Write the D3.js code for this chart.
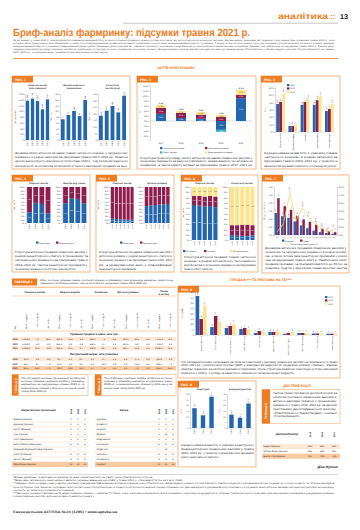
<!DOCTYPE html>
<html lang="uk"><head><meta charset="utf-8">
<script src="https://cdn.jsdelivr.net/npm/d3@7/dist/d3.min.js"></script>
<style>html,body{margin:0;padding:0;background:#fff;}svg{display:block;}text{text-rendering:geometricPrecision;}</style>
</head><body>
<svg id="page" width="360" height="530" viewBox="0 0 360 530" text-rendering="geometricPrecision"></svg>
<script>
// ================= DATA =================
const years5 = ["2017","2018","2019","2020","2021"];
const years4 = ["2018","2019","2020","2021"];
const years3 = ["2019","2020","2021"];
const years6 = ["2016","2017","2018","2019","2020","2021"];

// Рис. 1
const fig1Titles = [["Лікарські засоби","(млн упаковок)"],["Вироби медичного","призначення"],["Косметичні","засоби (млн)"]];
const fig1Drugs = [1368,1438,1357,1067,1414];
const fig1Medical = [72,87,101,83,139];
const fig1Cosmetic = [185,223,259,210,337];
const fig1Ticks = [[0,200,400,600,800,1000,1200,1400,1600],[0,20,40,60,80,100,120,140,160],[0,50,100,150,200,250,300,350]];

// Рис. 2
const fig2Cats = years5;
const fig2Natural = [2.8,1.2,0.9,-3.5,9.0];
const fig2Structure = [0,0,0,-0.8,0];
const fig2Inflation = [2.4,2.0,1.6,1.6,1.3];
const fig2Devaluation = [1.2,0.7,1.1,0.8,2.0];
const fig2Legend = ["Натуральна складова","Ефект міграції","Інфляційна складова","Девальваційна складова"];
const fig2Ticks = [-6,-4,-2,0,2,4,6,8,10,12,14];

// Рис. 3
const fig3Cats = ["Лікарські засоби","Вироби мед. призн.","Косметика","Дієтичні добавки","Аптечний кошик"];
const fig3Y2019 = [76.4,16.2,74.1,74.3,57.2];
const fig3Y2020 = [82.1,16.4,81.9,86.8,62.9];
const fig3Y2021 = [104.2,19.1,89.6,98.3,75.8];
const fig3Ticks = [0,20,40,60,80,100,120];

// Рис. 4 (частка рецептурних, %)
const fig4Titles = ["Лікарські засоби","Вироби мед. призн."];
const fig4Rx1 = [30,56,53,27];
const fig4Rx2 = [55,69,67,55];
// Рис. 5
const fig5Titles = ["Лікарські засоби","Дієтичні добавки"];
const fig5Rx1 = [12,11,10,10,9,9];
const fig5Rx2 = [47,49,50,51,52,53];
const pctTicks = [0,10,20,30,40,50,60,70,80,90,100];
const rxLegend = ["Рецептурні","Безрецептурні"];

// Рис. 6
const fig6Titles = ["Лікарські засоби","Косметичні засоби"];
const fig6Domestic1 = [66,65,63,64,62];
const fig6Foreign1 = [17,18,19,19,20];
const fig6Domestic2 = [9,8,8,7,9];
const fig6Foreign2 = [19,20,21,22,19];
const fig6Legend = ["Вітчизняні","Іноземні","Без визначення"];

// Рис. 7
const fig7Cats = ["<5","5–10","10–20","20–30","30–50","50–75","75–100","100–150","150–200","200+"];
const fig7Packs = [0.55,0.47,0.43,0.34,0.24,0.17,0.11,0.07,0.05,0.03];
const fig7Uah = [0.92,0.72,0.63,0.47,0.39,0.33,0.26,0.16,0.10,0.07];
const fig7Share = [4.0,14.0,52.0,18.0,34.0,22.0,14.0,9.0,3.5,7.0];
const fig7TicksL = [0,0.2,0.4,0.6,0.8,1.0,1.2];
const fig7TicksR = [0,10,20,30,40,50,60];
const fig7Legend = ["Упаковки","Гривні","Питома вага рецептурних, %"];

// Рис. 8
const fig8Cats = ["Фармак (Україна)","Sanofi (Франція)","Reckitt Benckiser (Велика Британія)","Bayer (Німеччина)","Teva (Ізраїль)","Дарниця (Україна)","Berlin-Chemie (Німеччина)","Acino (Швейцарія)","KRKA (Словенія)","Servier (Франція)"];
const fig8Y2019 = [363,74,65,56,19,28,9,19,14,12];
const fig8Y2020 = [149,177,84,65,37,28,19,19,14,12];
const fig8Y2021 = [270,121,102,56,33,33,28,19,14,12];
const fig8Ticks = [0,50,100,150,200,250,300,350,400];

// Рис. 9
const fig9Titles = ["Рецептурні","Безрецептурні ліки"];
const fig9Rx = [17.5,11.2,27.6];
const fig9Otc = [11.8,9.1,21.6];
const fig9Ticks = [0,5,10,15,20,25,30];

// Таблиця 1
const t1Groups = ["Лікарські засоби","Медичні вироби","Косметика","Дієтичні добавки","Разом в аптеку"];
const t1SubHeads = ["Рік","Обсяг продажів","Приріст/спад, %","Частка, %","Обсяг продажів","Приріст/спад, %","Частка, %","Обсяг продажів","Приріст/спад, %","Частка, %","Обсяг продажів","Приріст/спад, %","Частка, %","Обсяг продажів","Приріст/спад, %"];
const t1UahRows = [
  ["2019","5 863,8","7,8","80,6","610,9","15,6","8,4","481,3","7,4","6,6","320,4","30,5","4,4","7 276,4","9,2"],
  ["2020","5 628,0","-4,0","79,2","665,2","8,9","9,4","468,5","-2,7","6,6","342,5","6,9","4,8","7 104,2","-2,4"],
  ["2021","6 858,9","21,9","78,9","841,6","26,5","9,7","602,8","28,7","6,9","391,7","14,4","4,5","8 695,0","22,4"]];
const t1PackRows = [
  ["2019","92,6","-4,0","79,3","13,7","3,2","11,7","6,1","-0,7","5,2","4,4","17,5","3,8","116,8","-2,9"],
  ["2020","84,5","-8,7","77,9","14,9","8,8","13,7","5,3","-13,1","4,9","3,8","-13,6","3,5","108,5","-7,1"],
  ["2021","96,5","14,2","77,1","18,9","26,8","15,1","5,7","7,5","4,6","4,1","7,9","3,3","125,2","15,4"]];

// Таблиця 2, 3
const t2Names = ["Фармак (Україна)","Дарниця (Україна)","Sanofi (Франція)","Teva (Ізраїль)","Acino (Швейцарія)","Berlin-Chemie (Німеччина)","Київський вітамінний завод (Україна)","KRKA (Словенія)","Servier (Франція)","Юрія-Фарм (Україна)"];
const t2Ranks = [[1,1,1],[2,3,3],[3,2,2],[4,4,4],[5,5,5],[6,6,6],[7,7,7],[8,8,8],[9,9,9],[10,10,11]];
const t3Names = ["Нурофєн","Корвалол","Ксарелто","Фервекс","Кардіомагніл","Ессенціале","Мілдронат","Цитрамон","Спазмалгон","Сінупрет"];
const t3Ranks = [[1,1,1],[2,3,2],[3,2,6],[4,22,3],[5,5,5],[6,6,6],[7,12,7],[8,9,8],[9,8,9],[10,21,16]];
// Таблиця 4
const t4Names = ["БаДМ (Україна)","Оптіма-Фарм (Україна)","Вента. Лтд (Україна)"];
const t4Shares = [["33%","33%","34%"],["30%","30%","30%"],["8%","7,8%","7,5%"]];

// Тексти
const introText = "Як ми знаємо, у травні 2021 р. темпи інфляції в гривневому вираженні обігу аптечного кошика продемонстрували суттєве зростання, що не спостерігалося в минулих періодах. Вирішальними чинниками цієї тенденції стали низька база порівняння травня 2020 р., коли в Україні діяли суворі карантинні обмеження, а також поступове відновлення купівельної активності населення та зростання середньозваженої вартості упаковки. У цьому огляді ми розглянемо структуру продажів у розрізі категорій аптечного кошика, динаміку середньозваженої вартості упаковки, співвідношення рецептурних і безрецептурних препаратів, товарів вітчизняного та іноземного виробництва, а також рейтинги маркетингових організацій, брендів і дистриб’юторів за підсумками травня 2021 р. Окрему увагу приділено рекламній підтримці лікарських засобів на телебаченні та її впливу на попит споживачів у аптечному сегменті. Для детальнішого аналізу використано дані системи дослідження ринку «PharmXplorer» / «Фармстандарт» компанії «Proxima Research» за травень 2017–2021 рр., а також дані щодо телевізійної реклами за аналогічний період.";
const cap1 = "Динаміка обсягу аптечних продажів товарів «аптечного кошика» у натуральному вираженні в розрізі категорій за підсумками травня 2017–2021 рр. Лікарські засоби демонструють відновлення після спаду 2020 р., тоді як вироби медичного призначення та косметика встановили історичні максимуми продажів за весь період спостереження.";
const cap2 = "Структура приросту/спаду обсягу аптечних продажів лікарських засобів у грошовому вираженні за рахунок інфляційної, девальваційної та натуральної складових, а також ефекту міграції за підсумками травня 2017–2021 рр. порівняно з попереднім роком.";
const cap3 = "Середньозважена вартість 1 упаковки товарів «аптечного кошика» в розрізі категорій за підсумками травня 2019–2021 рр. у гривнях із зазначенням динаміки порівняно з попереднім роком.";
const cap4 = "Структура аптечних продажів лікарських засобів у розрізі рецептурного статусу в грошовому та натуральному вираженні за підсумками травня 2018–2021 рр. Частка рецептурних препаратів у грошовому вираженні поступово зменшується.";
const cap5 = "Структура аптечних продажів лікарських засобів і дієтичних добавок у розрізі рецептурного статусу в грошовому вираженні за підсумками травня 2016–2021 рр. з урахуванням змін у класифікації безрецептурних препаратів.";
const cap6 = "Структура аптечних продажів товарів «аптечного кошика» в розрізі вітчизняного та іноземного виробництва в грошовому вираженні за підсумками травня 2017–2021 рр.";
const cap7 = "Динаміка аптечних продажів лікарських засобів у грошовому та натуральному вираженні в розрізі цінових ніш, а також питома вага рецептурних препаратів у кожній ніші за підсумками травня 2021 р. Найбільший обсяг продажів припадає на препарати вартістю до 50 грн за упаковку, тоді як у дорожчих нішах зростає частка рецептурних лікарських засобів.";
const cap8 = "Топ-10 маркетингових організацій за обсягом інвестицій у рекламу лікарських засобів на телебаченні в травні 2019–2021 рр. у рейтингових пунктах (GRP) з урахуванням аудиторії 4+ за даними компанії «Nielsen». Фармак зберігає лідерство за обсягом рекламної підтримки, проте структура медійних інвестицій суттєво змінилася порівняно з 2020 р. з огляду на карантинні обмеження та перерозподіл бюджетів.";
const cap9 = "Середньозважена вартість 1 упаковки рецептурних і безрецептурних лікарських засобів у травні 2019–2021 рр. у гривнях з урахуванням динаміки курсу національної валюти.";
const t1Note = "Обсяг аптечних продажів товарів «аптечного кошика» в грошовому та натуральному вираженні, приріст/спад порівняно з попереднім роком і частка категорій за підсумками травня 2019–2021 рр.";
const t2Note = "Топ-10 маркетингових організацій за обсягом аптечних продажів лікарських засобів у грошовому вираженні за підсумками травня 2021 р. із зазначенням позицій у рейтингу за аналогічний період 2019–2020 рр.";
const t3Note = "Топ-10 брендів лікарських засобів за обсягом аптечних продажів у грошовому вираженні за підсумками травня 2021 р. із зазначенням позицій у рейтингу за аналогічний період 2019–2020 рр.";
const t4Note = "Частка трійки провідних дистриб’юторів за обсягом поставок лікарських засобів в аптечні заклади України у грошовому вираженні у травні 2019–2021 рр. за даними системи дослідження ринку «PharmXplorer»/«Фармстандарт» компанії «Proxima Research».";
const footNotes = [
  "*Більш детально з методикою аналізу можна ознайомитися на сайті: www.pharmxplorer.com.ua.",
  "**Враховано вплив курсу національної валюти: середньозважений курс НБУ у травні 2021 р. становив 27,5 грн за 1 дол. США.",
  "***Наведено обсяги продажів у цінах роздрібної реалізації з урахуванням ПДВ за даними системи дослідження ринку «PharmXplorer»/«Фармстандарт» компанії «Proxima Research». Аналіз проводиться з урахуванням аптечних продажів, що охоплює понад 21 тис. аптечних закладів на території України, крім тимчасово окупованих територій Автономної Республіки Крим, м. Севастополя та зони проведення операції об’єднаних сил. Дані наводяться з урахуванням ретроспективного коригування панелі аптечних закладів і методики екстраполяції на генеральну сукупність, що забезпечує порівнянність показників.",
  "****Дані щодо рекламної підтримки на ТБ надані компанією «Nielsen» / «Ukrainian TV Panel», згідно з методикою визначення обсягів телевізійного перегляду серед аудиторії 4+ в Україні. Рейтингові пункти розраховано для національних телеканалів з урахуванням рекламних роликів лікарських засобів і дієтичних добавок тривалістю понад 5 с."
];

// ================= HELPERS =================
const ORANGE="#ee7d22", BOXC="#f4b07a", BLUE="#2366ad", MAROON="#8d1e4e", YELLOW="#fde38a", TEAL="#35b4d8";
const LIGHT="#fde9d9", PEACH="#f9c9a2";
const FF="'Liberation Sans', Arial, sans-serif";
const loc = d3.formatLocale({decimal:",", thousands:"\u00a0", grouping:[3], currency:["",""]});
const f0 = loc.format(",.0f"), f1 = loc.format(",.1f"), f2 = loc.format(".2f");
const pct = v => f0(v) + "%";
const svg = d3.select("#page");
svg.append("rect").attr("width",360).attr("height",530).attr("fill","#fff");
// clip for the full-width text blocks (keeps them inside the page column)
const defs = svg.append("defs");
defs.append("clipPath").attr("id","col").append("rect").attr("x",0).attr("y",0).attr("width",339).attr("height",530);

function T(g,x,y,s,o={}){
  const t=g.append("text").attr("x",x).attr("y",y).text(s)
    .attr("font-size",o.fs||3).attr("fill",o.fill||"#222").attr("font-family",o.ff||FF);
  if(o.bold) t.attr("font-weight","bold");
  if(o.italic) t.attr("font-style","italic");
  if(o.anchor) t.attr("text-anchor",o.anchor);
  const rot = o.rot?`rotate(${o.rot},${x},${y}) `:"";
  if(o.w){
    const L=t.node().getComputedTextLength();
    if(L>0){
      let k=o.w/L;
      const setK=()=>t.attr("transform",rot+`translate(${x},${y}) scale(${k},1) translate(${-x},${-y})`);
      setK();
      if(!o.rot){
        const bw=t.node().getBoundingClientRect().width;
        if(bw>0 && Math.abs(bw-o.w)>0.5){ k=k*o.w/bw; setK(); }
      }
    } else if(rot) t.attr("transform",rot);
  } else if(rot) t.attr("transform",rot);
  return t;
}
function wrap(text,w,fs){
  const cap=Math.floor(w/(fs*0.5)); const words=text.split(" "), lines=[]; let cur="";
  for(const wd of words){
    if(cur && cur.length+1+wd.length>cap){lines.push(cur);cur=wd;}
    else cur=cur?cur+" "+wd:wd;
  }
  if(cur) lines.push(cur); return lines;
}
function para(g,x,y,w,lh,text,n,fs,fill){
  const cap=Math.floor(w/(fs*0.5));
  const all=wrap(text,w,fs), lines=all.slice(0,n);
  lines.forEach((l,i)=>{
    const final = i===all.length-1;
    T(g,x,y+i*lh,l,{fs:fs,fill:fill||"#333",w: final ? Math.min(w, w*l.length/cap) : w});
  });
}
function figBox(x,y,w,h,label,tw){
  svg.append("rect").attr("x",x).attr("y",y).attr("width",w).attr("height",h).attr("fill","none").attr("stroke",BOXC).attr("stroke-width",0.9);
  svg.append("rect").attr("x",x).attr("y",y).attr("width",tw||21).attr("height",6.5).attr("fill",ORANGE);
  T(svg,x+3,y+4.6,label,{fs:3.4,bold:true,fill:"#fff"});
}
function styleAxis(a,fs){
  a.selectAll("text").attr("font-size",fs||2.2).attr("font-family",FF).attr("fill","#333");
  a.selectAll("path,line").attr("stroke","#888").attr("stroke-width",0.3);
}
function leftAxis(g,y,x,ticks,fmt,fs){
  const a=g.append("g").attr("transform",`translate(${x},0)`)
    .call(d3.axisLeft(y).tickValues(ticks).tickFormat(fmt).tickSize(0.8).tickPadding(0.7));
  styleAxis(a,fs); return a;
}
function baseLine(g,x0,x1,y){g.append("line").attr("x1",x0).attr("x2",x1).attr("y1",y).attr("y2",y).attr("stroke","#888").attr("stroke-width",0.3);}
function catLabels(g,x,cats,y0,fs,labels){
  g.selectAll(null).data(cats).join("text")
    .attr("transform",d=>`translate(${x(d)+x.bandwidth()/2+0.7},${y0}) rotate(-90)`)
    .attr("text-anchor","end").attr("font-size",fs||2.1).attr("font-family",FF).attr("fill","#333")
    .text((d,i)=>labels?labels[i]:d);
}
function legendItem(g,x,y,color,label,line){
  if(line) g.append("line").attr("x1",x).attr("x2",x+4).attr("y1",y-0.8).attr("y2",y-0.8).attr("stroke",color).attr("stroke-width",0.8);
  else g.append("rect").attr("x",x).attr("y",y-2).attr("width",2.4).attr("height",2.2).attr("fill",color);
  T(g,x+(line?5:3.2),y,label,{fs:2.1,fill:"#333"});
}
function rotY(g,x,y,s){T(g,x,y,s,{fs:2.2,anchor:"middle",rot:-90,fill:"#333"});}

function grouped(g,o){
  const x=d3.scaleBand().domain(o.cats).range([o.x0,o.x1]).paddingInner(o.pi??0.3).paddingOuter(o.po??0.15);
  const xs=d3.scaleBand().domain(d3.range(o.series.length)).range([0,x.bandwidth()]).paddingInner(o.si??0.06);
  const y=d3.scaleLinear().domain(o.domain).range([o.yb,o.yt]);
  if(o.ticks) leftAxis(g,y,o.x0,o.ticks,o.tfmt||f0,o.tfs);
  baseLine(g,o.x0,o.x1,y(0));
  o.series.forEach((s,si)=>{
    g.selectAll(null).data(s.vals).join("rect")
      .attr("x",(d,i)=>x(o.cats[i])+xs(si)).attr("width",xs.bandwidth())
      .attr("y",d=>y(Math.max(0,d))).attr("height",d=>Math.abs(y(d)-y(0))).attr("fill",s.color);
    if(o.vlab){
      g.selectAll(null).data(s.vals).join("text")
        .attr("transform",(d,i)=>`translate(${x(o.cats[i])+xs(si)+xs.bandwidth()/2+0.6},${y(d)-0.8}) rotate(-90)`)
        .attr("font-size",o.vfs||1.9).attr("font-family",FF).attr("fill","#333").text(d=>o.vfmt(d));
    }
  });
  return {x,y};
}
function stacked(g,o){
  const keys=o.series.map((s,i)=>"k"+i);
  const rows=o.cats.map((c,i)=>{const r={cat:c};o.series.forEach((s,si)=>r["k"+si]=s.vals[i]);return r;});
  const st=d3.stack().keys(keys)(rows);
  const x=d3.scaleBand().domain(o.cats).range([o.x0+0.5,o.x1]).paddingInner(o.pi??0.22).paddingOuter(0.1);
  const y=d3.scaleLinear().domain([0,100]).range([o.yb,o.yt]);
  leftAxis(g,y,o.x0,pctTicks,pct,1.9);
  st.forEach((layer,li)=>{
    g.selectAll(null).data(layer).join("rect")
      .attr("x",d=>x(d.data.cat)).attr("width",x.bandwidth())
      .attr("y",d=>y(d[1])).attr("height",d=>y(d[0])-y(d[1])).attr("fill",o.series[li].color);
    g.selectAll(null).data(layer.filter(d=>d[1]-d[0]>=8)).join("text")
      .attr("x",d=>x(d.data.cat)+x.bandwidth()/2).attr("y",d=>(y(d[0])+y(d[1]))/2+0.6)
      .attr("text-anchor","middle").attr("font-size",1.5).attr("font-family",FF)
      .attr("fill",o.series[li].color===YELLOW?"#333":"#fff").text(d=>pct(d[1]-d[0]));
  });
  if(o.title) T(g,(o.x0+o.x1)/2,o.yt-3.5,o.title,{fs:2.3,anchor:"middle",bold:true,fill:"#333"});
  return {x,y};
}

// ================= HEADER =================
T(svg,278,19,"аналітика",{fs:8.5,bold:true,fill:ORANGE,w:50});
T(svg,330,19,"::",{fs:8,bold:true,fill:ORANGE});
T(svg,340,19,"13",{fs:7,bold:true,fill:"#222",w:8});
svg.append("line").attr("x1",123).attr("x2",338).attr("y1",23.2).attr("y2",23.2).attr("stroke","#8a8a8a").attr("stroke-width",0.5);
T(svg,13,36,"Бриф-аналіз фармринку: підсумки травня 2021 р.",{fs:10.5,bold:true,fill:ORANGE,w:237});
{
  const gi=svg.append("g").attr("clip-path","url(#col)");
  para(gi,13,41,322,3,introText,5,2.5,"#555");
}
svg.append("line").attr("x1",13).attr("x2",338).attr("y1",58.5).attr("y2",58.5).attr("stroke",ORANGE).attr("stroke-width",0.8);
T(svg,176,68.5,"«АПТЕЧНИЙ КОШИК»",{fs:3.6,bold:true,fill:ORANGE,anchor:"middle"});

// ================= РИС. 1 =================
figBox(12,76,118,93,"РИС. 1");
{
  const g=svg.append("g");
  const panels=[[fig1Drugs,25,50,fig1Ticks[0]],[fig1Medical,60,88,fig1Ticks[1]],[fig1Cosmetic,98,127,fig1Ticks[2]]];
  panels.forEach((p,pi)=>{
    const r=grouped(g,{cats:years5,series:[{vals:p[0],color:BLUE}],x0:p[1],x1:p[2],yt:94,yb:140,domain:[0,d3.max(p[3])],ticks:p[3],tfmt:f0,tfs:2,pi:0.3,vlab:true,vfmt:f0,vfs:2});
    catLabels(g,r.x,years5,141.5,2);
    T(g,(p[1]+p[2])/2,85.5,fig1Titles[pi][0],{fs:2.3,bold:true,anchor:"middle",fill:"#333"});
    T(g,(p[1]+p[2])/2,88.5,fig1Titles[pi][1],{fs:2.3,bold:true,anchor:"middle",fill:"#333"});
    rotY(g,p[1]-(pi===0?9:8),117,pi===0?"Млн упаковок":"Млн грн");
  });
  para(g,15,154,113,4.2,cap1,4,2.9);
}

// ================= РИС. 2 =================
figBox(137,76,119,93,"РИС. 2");
{
  const g=svg.append("g");
  const keys=["nat","str","inf","dev"], colors=[BLUE,TEAL,MAROON,YELLOW];
  const rows=fig2Cats.map((c,i)=>({cat:c,nat:fig2Natural[i],str:fig2Structure[i],inf:fig2Inflation[i],dev:fig2Devaluation[i]}));
  const st=d3.stack().keys(keys).offset(d3.stackOffsetDiverging)(rows);
  const x=d3.scaleBand().domain(fig2Cats).range([150,252]).paddingInner(0.5).paddingOuter(0.3);
  const y=d3.scaleLinear().domain([-7.5,14.2]).range([140,85]);
  leftAxis(g,y,150,fig2Ticks,v=>f1(v)+"%",2);
  baseLine(g,150,252,y(0));
  st.forEach((layer,li)=>{
    g.selectAll(null).data(layer.filter(d=>d[1]!==d[0])).join("rect")
      .attr("x",d=>x(d.data.cat)).attr("width",x.bandwidth())
      .attr("y",d=>y(d[1])).attr("height",d=>y(d[0])-y(d[1])).attr("fill",colors[li]);
    g.selectAll(null).data(layer.filter(d=>Math.abs(d[1]-d[0])>=0.7)).join("text")
      .attr("x",d=>x(d.data.cat)+x.bandwidth()/2).attr("y",d=>(y(d[0])+y(d[1]))/2+0.7)
      .attr("text-anchor","middle").attr("font-size",1.8).attr("font-family",FF)
      .attr("fill",colors[li]===YELLOW?"#333":"#fff").text(d=>f1(d[1]-d[0])+"%");
  });
  rows.forEach(r=>{
    const tot=r.nat+r.str+r.inf+r.dev, top=Math.max(0,r.nat)+r.inf+r.dev;
    T(g,x(r.cat)+x.bandwidth()/2,y(top)-1,f1(tot)+"%",{fs:1.9,anchor:"middle",bold:true,fill:"#333"});
  });
  g.selectAll(null).data(fig2Cats).join("text").attr("x",d=>x(d)+x.bandwidth()/2).attr("y",143.5)
    .attr("text-anchor","middle").attr("font-size",2.2).attr("font-family",FF).attr("fill","#333").text(d=>d);
  rotY(g,141,112,"%");
  legendItem(g,160,149,BLUE,fig2Legend[0]); legendItem(g,160,153.3,TEAL,fig2Legend[1]);
  legendItem(g,205,149,MAROON,fig2Legend[2]); legendItem(g,205,153.3,YELLOW,fig2Legend[3]);
  para(g,140,158.5,113,3.9,cap2,3,2.9);
}

// ================= РИС. 3 =================
figBox(261,76,79,93,"РИС. 3");
{
  const g=svg.append("g");
  const r=grouped(g,{cats:fig3Cats,series:[{vals:fig3Y2019,color:BLUE},{vals:fig3Y2020,color:MAROON},{vals:fig3Y2021,color:YELLOW}],
    x0:275,x1:335,yt:88,yb:132,domain:[0,120],ticks:fig3Ticks,tfmt:v=>f1(v),tfs:2,pi:0.28,po:0.1,si:0.05,vlab:true,vfmt:f1,vfs:1.8});
  catLabels(g,r.x,fig3Cats,133.5,1.9);
  rotY(g,266,110,"Грн");
  legendItem(g,287,86,BLUE,"2019"); legendItem(g,287,89.4,MAROON,"2020"); legendItem(g,287,92.8,YELLOW,"2021");
  para(g,264,154,74,4.2,cap3,4,2.9);
}

// ================= РИС. 4 =================
figBox(12,175,78,97,"РИС. 4");
{
  const g=svg.append("g");
  const a=stacked(g,{cats:years4,series:[{vals:fig4Rx1,color:BLUE},{vals:fig4Rx1.map(v=>100-v),color:MAROON}],x0:26,x1:51,yt:187,yb:223,title:fig4Titles[0]});
  catLabels(g,a.x,years4,224.5,2);
  const b=stacked(g,{cats:years4,series:[{vals:fig4Rx2,color:BLUE},{vals:fig4Rx2.map(v=>100-v),color:MAROON}],x0:62,x1:87,yt:187,yb:223,title:fig4Titles[1]});
  catLabels(g,b.x,years4,224.5,2);
  rotY(g,15,205,"Частка, %");
  legendItem(g,36,243.5,BLUE,rxLegend[0]); legendItem(g,56,243.5,MAROON,rxLegend[1]);
  para(g,15,253,73,4.2,cap4,5,2.9);
}

// ================= РИС. 5 =================
figBox(96,175,78,97,"РИС. 5");
{
  const g=svg.append("g");
  const a=stacked(g,{cats:years6,series:[{vals:fig5Rx1,color:BLUE},{vals:fig5Rx1.map(v=>100-v),color:MAROON}],x0:110,x1:134,yt:187,yb:223,pi:0.2,title:fig5Titles[0]});
  catLabels(g,a.x,years6,224.5,1.9);
  const b=stacked(g,{cats:years6,series:[{vals:fig5Rx2,color:BLUE},{vals:fig5Rx2.map(v=>100-v),color:MAROON}],x0:144,x1:170,yt:187,yb:223,pi:0.2,title:fig5Titles[1]});
  catLabels(g,b.x,years6,224.5,1.9);
  rotY(g,99,205,"Частка, %");
  legendItem(g,120,243.5,BLUE,rxLegend[0]); legendItem(g,140,243.5,MAROON,rxLegend[1]);
  para(g,99,253,73,4.2,cap5,5,2.9);
}

// ================= РИС. 6 =================
figBox(181,175,77,97,"РИС. 6");
{
  const g=svg.append("g");
  const s1=[{vals:fig6Domestic1,color:BLUE},{vals:fig6Foreign1,color:MAROON},{vals:fig6Domestic1.map((v,i)=>100-v-fig6Foreign1[i]),color:YELLOW}];
  const s2=[{vals:fig6Domestic2,color:BLUE},{vals:fig6Foreign2,color:MAROON},{vals:fig6Domestic2.map((v,i)=>100-v-fig6Foreign2[i]),color:YELLOW}];
  const a=stacked(g,{cats:years5,series:s1,x0:191,x1:218,yt:187,yb:240,title:fig6Titles[0]});
  catLabels(g,a.x,years5,241.2,1.9);
  const b=stacked(g,{cats:years5,series:s2,x0:229,x1:255,yt:187,yb:240,title:fig6Titles[1]});
  catLabels(g,b.x,years5,241.2,1.9);
  rotY(g,184,213,"Частка, %");
  legendItem(g,183,252,BLUE,fig6Legend[0]); legendItem(g,204,252,MAROON,fig6Legend[1]); legendItem(g,230,252,YELLOW,fig6Legend[2]);
  para(g,184,257.5,72,4,cap6,4,2.9);
}

// ================= РИС. 7 =================
figBox(262,175,87,98,"РИС. 7");
{
  const g=svg.append("g");
  const r=grouped(g,{cats:fig7Cats,series:[{vals:fig7Packs,color:BLUE},{vals:fig7Uah,color:MAROON}],x0:274,x1:337,yt:187,yb:235,domain:[0,1.2],ticks:fig7TicksL,tfmt:f2,tfs:2,pi:0.2,po:0.1,si:0.05,vlab:true,vfmt:f2,vfs:1.7});
  const yR=d3.scaleLinear().domain([0,60]).range([235,187]);
  const ra=g.append("g").attr("transform","translate(337,0)").call(d3.axisRight(yR).tickValues(fig7TicksR).tickFormat(v=>f1(v)+"%").tickSize(0.8).tickPadding(0.7));
  styleAxis(ra,2);
  const line=d3.line().x((d,i)=>r.x(fig7Cats[i])+r.x.bandwidth()/2).y(d=>yR(d));
  g.append("path").datum(fig7Share).attr("d",line).attr("fill","none").attr("stroke","#f7d774").attr("stroke-width",0.8);
  g.selectAll(null).data(fig7Share).join("text")
    .attr("transform",(d,i)=>`translate(${r.x(fig7Cats[i])+r.x.bandwidth()/2+0.6},${yR(d)-1}) rotate(-90)`)
    .attr("font-size",1.7).attr("font-family",FF).attr("fill","#333").text(d=>f1(d)+"%");
  g.selectAll(null).data(fig7Cats).join("text").attr("x",d=>r.x(d)+r.x.bandwidth()/2).attr("y",237.5)
    .attr("text-anchor","middle").attr("font-size",1.6).attr("font-family",FF).attr("fill","#333").text(d=>d);
  rotY(g,265,211,"Млрд грн / млн уп.");
  legendItem(g,282,241.5,BLUE,fig7Legend[0]); legendItem(g,300,241.5,MAROON,fig7Legend[1]);
  legendItem(g,285,245,"#f7d774",fig7Legend[2],true);
  para(g,265,249,82,4,cap7,6,2.9);
}

// ================= ТАБЛИЦЯ 1 =================
{
  const g=svg.append("g");
  g.append("rect").attr("x",12).attr("y",278.5).attr("width",25).attr("height",7).attr("fill",ORANGE);
  T(g,14.5,283.4,"ТАБЛИЦЯ 1",{fs:3.2,bold:true,fill:"#fff"});
  para(g,40,281,133,3.4,t1Note,2,2.6);
  g.append("line").attr("x1",12).attr("x2",176).attr("y1",287.2).attr("y2",287.2).attr("stroke",ORANGE).attr("stroke-width",0.6);
  const cols=d3.scalePoint().domain(d3.range(15)).range([15,170]);
  const groupCenters=[35,70,101,128,164];
  t1Groups.forEach((s,i)=>{
    if(i===4){T(g,groupCenters[i],291.5,"Разом",{fs:2.5,bold:true,anchor:"middle"});T(g,groupCenters[i],294.5,"в аптеку",{fs:2.5,bold:true,anchor:"middle"});}
    else T(g,groupCenters[i],293,s,{fs:2.5,bold:true,anchor:"middle"});
  });
  g.append("line").attr("x1",12).attr("x2",176).attr("y1",296).attr("y2",296).attr("stroke",ORANGE).attr("stroke-width",0.3);
  t1SubHeads.forEach((s,i)=>T(g,cols(i)+0.8,329,s,{fs:2.1,rot:-90,fill:"#333",bold:i===0}));
  g.append("line").attr("x1",12).attr("x2",176).attr("y1",331).attr("y2",331).attr("stroke",ORANGE).attr("stroke-width",0.4);
  function block(title,y0,rows,last){
    T(g,94,y0,title,{fs:2.8,bold:true,anchor:"middle"});
    rows.forEach((r,ri)=>{
      const yy=y0+5.5+ri*4.6;
      const fill= ri===2 && last ? PEACH : (ri!==1 ? LIGHT : "#fff");
      g.append("rect").attr("x",12).attr("y",yy-3.1).attr("width",164).attr("height",4.2).attr("fill",fill);
      r.forEach((v,ci)=>T(g,cols(ci),yy,v,{fs:2.3,anchor:"middle",fill:"#222",bold:ci===0}));
    });
  }
  block("Гривневі продажі в цінах, млн грн",334.5,t1UahRows,false);
  block("Натуральний вираз, млн упаковок",354.5,t1PackRows,true);
}

// ================= ТАБЛИЦІ 2, 3 =================
function rankTable(x0,x1,tabLabel,note,header,names,ranks){
  const g=svg.append("g");
  g.append("rect").attr("x",x0).attr("y",374.5).attr("width",x1-x0).attr("height",21).attr("fill","none").attr("stroke",BOXC).attr("stroke-width",0.6);
  g.append("rect").attr("x",x0).attr("y",374.5).attr("width",6.5).attr("height",21).attr("fill",ORANGE);
  T(g,x0+4.5,393,tabLabel,{fs:2.9,bold:true,fill:"#fff",rot:-90});
  para(g,x0+9,378.5,x1-x0-12,3.4,note,5,2.6);
  const colX=[x1-17,x1-10,x1-3];
  T(g,(x0+colX[0])/2-3,411,header,{fs:2.7,bold:true,anchor:"middle"});
  years3.forEach((yv,i)=>T(g,colX[i]+0.8,414,yv,{fs:2.3,bold:true,rot:-90}));
  const rowY=d3.scaleBand().domain(d3.range(names.length)).range([417,467]);
  names.forEach((n,i)=>{
    const yy=rowY(i);
    if(i===names.length-1) g.append("rect").attr("x",x0).attr("y",yy).attr("width",x1-x0).attr("height",rowY.bandwidth()).attr("fill",PEACH);
    else g.append("line").attr("x1",x0).attr("x2",x1).attr("y1",yy+rowY.bandwidth()).attr("y2",yy+rowY.bandwidth()).attr("stroke",BOXC).attr("stroke-width",0.3);
    T(g,x0+1.5,yy+3.3,n,{fs:2.3,fill:"#222"});
    ranks[i].forEach((v,ci)=>T(g,colX[ci],yy+3.3,String(v),{fs:2.3,anchor:"middle",fill:"#222"}));
  });
}
rankTable(12,88,"Таблиця 2",t2Note,"Маркетингова організація",t2Names,t2Ranks);
rankTable(95,176,"Таблиця 3",t3Note,"Бренд",t3Names,t3Ranks);

// ================= ПРОДАЖІ ТА РЕКЛАМА / РИС. 8 =================
T(svg,261,281,"ПРОДАЖІ*** ТА РЕКЛАМА НА ТБ****",{fs:3.5,bold:true,fill:ORANGE,anchor:"middle"});
figBox(178,286,162,92,"РИС. 8");
{
  const g=svg.append("g");
  const r=grouped(g,{cats:fig8Cats,series:[{vals:fig8Y2019,color:BLUE},{vals:fig8Y2020,color:MAROON},{vals:fig8Y2021,color:YELLOW}],
    x0:195,x1:338,yt:292,yb:335,domain:[0,400],ticks:fig8Ticks,tfmt:f0,tfs:2,pi:0.25,po:0.05,si:0.05,vlab:true,vfmt:f0,vfs:1.8});
  catLabels(g,r.x,fig8Cats,336.5,1.8,fig8Cats.map(s=>s.length>22?s.slice(0,20)+"…":s));
  rotY(g,183,313,"Тис. GRP");
  legendItem(g,325,298,BLUE,"2019"); legendItem(g,325,301.3,MAROON,"2020"); legendItem(g,325,304.6,YELLOW,"2021");
  para(g,181,362.5,157,3.9,cap8,4,2.9);
}

// ================= РИС. 9 =================
figBox(178,381,78,86,"РИС. 9");
{
  const g=svg.append("g");
  const a=grouped(g,{cats:years3,series:[{vals:fig9Rx,color:BLUE}],x0:190,x1:216,yt:394,yb:428,domain:[0,30],ticks:fig9Ticks,tfmt:f0,tfs:2,pi:0.45,po:0.25,vlab:true,vfmt:f1,vfs:1.9});
  catLabels(g,a.x,years3,429.5,2);
  const b=grouped(g,{cats:years3,series:[{vals:fig9Otc,color:BLUE}],x0:227,x1:253,yt:394,yb:428,domain:[0,30],ticks:fig9Ticks,tfmt:f0,tfs:2,pi:0.45,po:0.25,vlab:true,vfmt:f1,vfs:1.9});
  catLabels(g,b.x,years3,429.5,2);
  T(g,203,390,fig9Titles[0],{fs:2.3,bold:true,anchor:"middle"});
  T(g,240,390,fig9Titles[1],{fs:2.3,bold:true,anchor:"middle"});
  rotY(g,182,411,"Грн"); rotY(g,220,411,"Грн");
  para(g,181,446,73,4,cap9,4,2.9);
}

// ================= ДИСТРИБ'ЮЦІЯ / ТАБЛИЦЯ 4 =================
T(svg,297,386.5,"ДИСТРИБ’ЮЦІЯ",{fs:3.5,bold:true,italic:true,fill:ORANGE,anchor:"middle"});
{
  const g=svg.append("g");
  g.append("rect").attr("x",262).attr("y",389.5).attr("width",78).attr("height",34).attr("fill","none").attr("stroke",BOXC).attr("stroke-width",0.6);
  g.append("rect").attr("x",262).attr("y",389.5).attr("width",8).attr("height",34).attr("fill",ORANGE);
  T(g,267.3,419,"Таблиця 4",{fs:3.2,bold:true,fill:"#fff",rot:-90});
  para(g,273,394,64,3.9,t4Note,7,2.9);
  const colX=[310,322,334];
  T(g,287,435,"Дистриб’ютор",{fs:2.9,bold:true,anchor:"middle",italic:true});
  years3.forEach((yv,i)=>T(g,colX[i]+0.8,437,yv,{fs:2.2,bold:true,rot:-90}));
  t4Names.forEach((n,i)=>{
    const yy=444+i*5;
    g.append("rect").attr("x",262).attr("y",yy).attr("width",78).attr("height",4.4).attr("fill",i===1?"#fff":(i===2?PEACH:LIGHT));
    g.append("line").attr("x1",262).attr("x2",340).attr("y1",yy+4.6).attr("y2",yy+4.6).attr("stroke",BOXC).attr("stroke-width",0.3);
    T(g,263.5,yy+3.2,n,{fs:2.3});
    t4Shares[i].forEach((v,ci)=>T(g,colX[ci],yy+3.2,v,{fs:2.3,anchor:"middle"}));
  });
}
T(svg,338,467.5,"Діна Жупник",{fs:3.3,bold:true,italic:true,anchor:"end"});

// ================= FOOTER =================
svg.append("line").attr("x1",12).attr("x2",338).attr("y1",474.5).attr("y2",474.5).attr("stroke","#999").attr("stroke-width",0.4);
{
  const g=svg.append("g").attr("clip-path","url(#col)");
  T(g,13,478,footNotes[0],{fs:2.4,fill:"#444",w:140});
  T(g,13,481.2,footNotes[1],{fs:2.4,fill:"#444",w:170});
  para(g,13,484.4,322,3.1,footNotes[2],3,2.4,"#444");
  para(g,13,494,322,3.1,footNotes[3],2,2.4,"#444");
}
T(svg,13,513,"Еженедельник АПТЕКА №24 (1295) • www.apteka.ua",{fs:3.4,bold:true,fill:"#333",w:104});
</script>
</body></html>
